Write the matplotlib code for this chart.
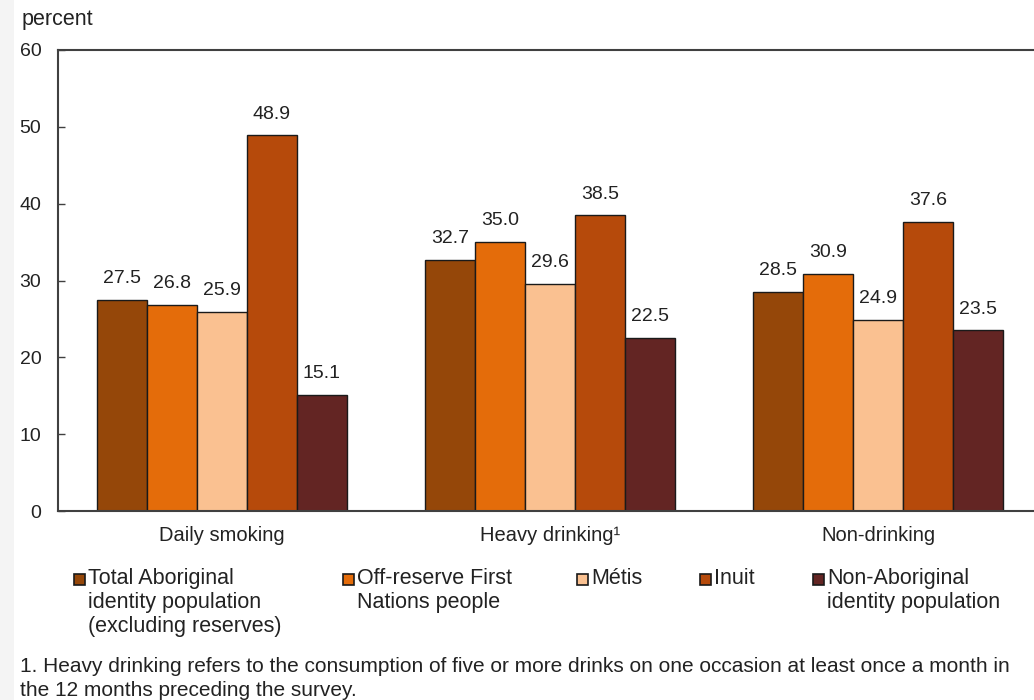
import matplotlib
matplotlib.use("Agg")
import matplotlib.pyplot as plt
import numpy as np
from matplotlib.patches import Rectangle

plt.rcParams["font.family"] = ["Liberation Sans", "DejaVu Sans"]

categories = ["Daily smoking", "Heavy drinking\u00b9", "Non-drinking"]
series_names = [
    "Total Aboriginal\nidentity population\n(excluding reserves)",
    "Off-reserve First\nNations people",
    "Métis",
    "Inuit",
    "Non-Aboriginal\nidentity population",
]
total_aboriginal = [27.5, 32.7, 28.5]
off_reserve_fn = [26.8, 35.0, 30.9]
metis = [25.9, 29.6, 24.9]
inuit = [48.9, 38.5, 37.6]
non_aboriginal = [15.1, 22.5, 23.5]
series_values = [total_aboriginal, off_reserve_fn, metis, inuit, non_aboriginal]
colors = ["#954709", "#E46C0A", "#FAC191", "#B64A0B", "#632523"]
yticks = [0, 10, 20, 30, 40, 50, 60]
footnote = ("1. Heavy drinking refers to the consumption of five or more drinks on one occasion at least once a month in\n"
            "the 12 months preceding the survey.")

W, H = 1034, 700
fig = plt.figure(figsize=(W / 100, H / 100), dpi=100)
fig.patches.append(Rectangle((0, 0), 14 / W, 1, transform=fig.transFigure,
                             facecolor="#f4f4f4", edgecolor="none", zorder=0))

ax = fig.add_axes([58 / W, 1 - 511 / H, 984 / W, 461 / H])
x = np.arange(len(categories))
bw = 0.1524
n = len(series_values)
fs = 14
txt = "#222222"
for i, (vals, col) in enumerate(zip(series_values, colors)):
    pos = x + (i - (n - 1) / 2) * bw
    ax.bar(pos, vals, width=bw, color=col, edgecolor="#1a1a1a", linewidth=1.0, zorder=2)
    for xp, v in zip(pos, vals):
        ax.annotate(f"{v:.1f}", (xp, v), xytext=(0, 12), textcoords="offset points",
                    ha="center", va="baseline", fontsize=fs, color=txt)

ax.set_xlim(-0.5, 2.5)
ax.set_ylim(0, 60)
ax.set_yticks(yticks)
ax.set_yticklabels([str(t) for t in yticks], fontsize=fs, color=txt)
ax.set_xticks(x)
ax.set_xticklabels(categories, fontsize=14.5, color=txt)
ax.tick_params(axis="y", direction="in", length=5, width=1, color="#404040", pad=12)
ax.tick_params(axis="x", length=0, pad=10.5)
for s in ["left", "bottom", "top"]:
    ax.spines[s].set_color("#404040")
    ax.spines[s].set_linewidth(1.5)
ax.spines["right"].set_visible(False)

fig.text(22 / W, 1 - 20 / H, "percent", fontsize=15.5, color=txt, va="center", ha="left")

# legend drawn as swatches with labels
leg_x = [74, 343, 577, 700, 813]
lfs = 15.5
for lx, name, col in zip(leg_x, series_names, colors):
    fig.patches.append(Rectangle((lx / W, 1 - 585 / H), 11 / W, 11 / H, transform=fig.transFigure,
                                 facecolor=col, edgecolor="#1a1a1a", linewidth=1.2))
    fig.text((lx + 14) / W, 1 - 568 / H, name, fontsize=lfs, color=txt,
             va="top", ha="left", linespacing=1.2)

fig.text(20 / W, 1 - 657 / H, footnote, fontsize=15, color=txt,
         va="top", ha="left", linespacing=1.36)

fig.savefig("out.png", dpi=100)
